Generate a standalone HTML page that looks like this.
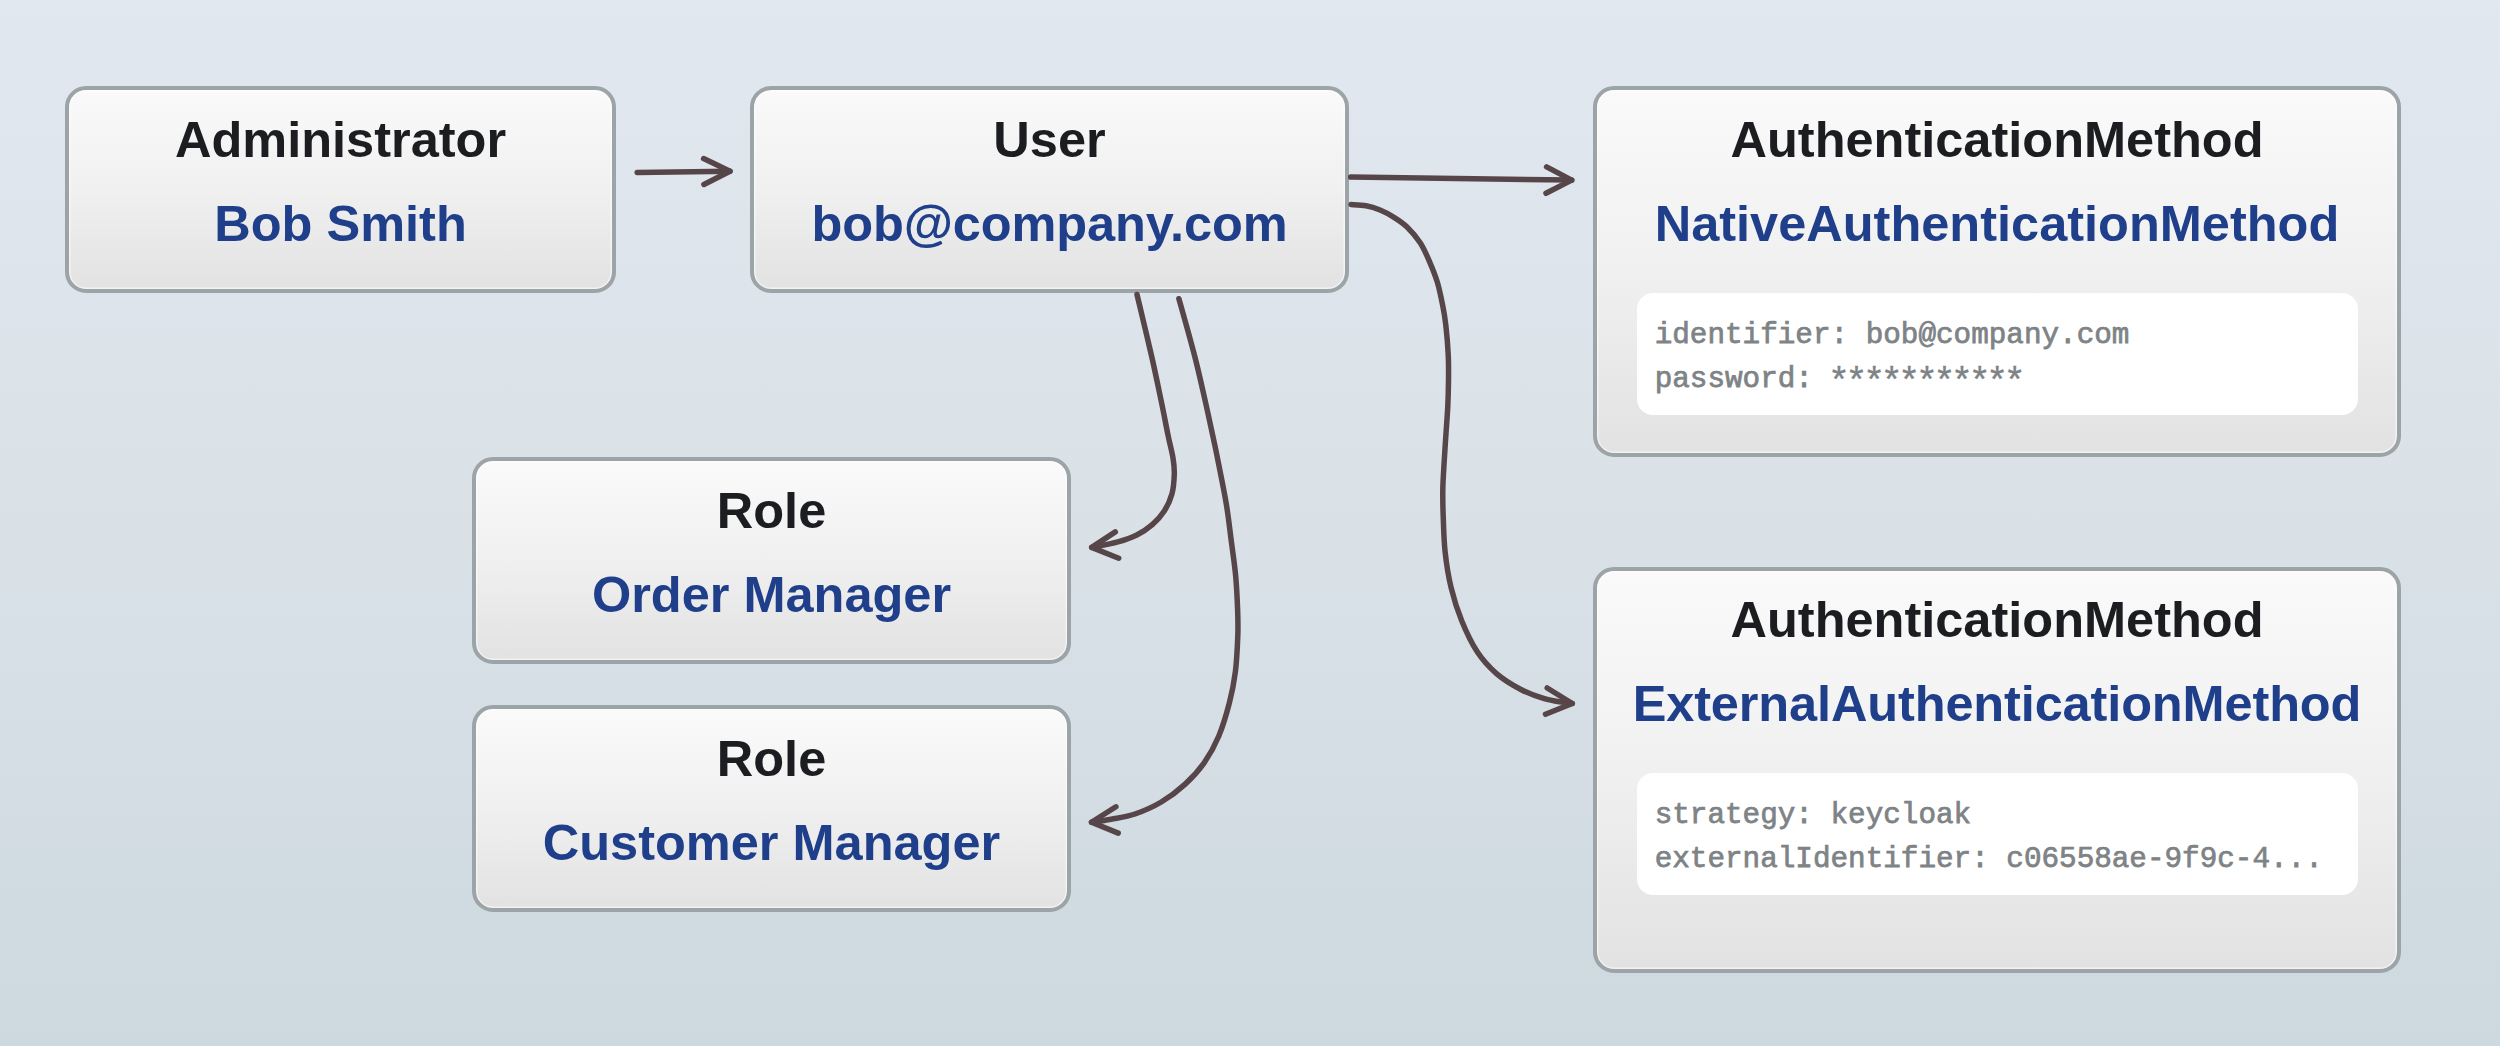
<!DOCTYPE html>
<html>
<head>
<meta charset="utf-8">
<style>
html,body{margin:0;padding:0;}
body{width:2500px;height:1046px;overflow:hidden;position:relative;
  font-family:"Liberation Sans",sans-serif;
  background:linear-gradient(180deg,#e1e8f0 0%,#dae2e8 48%,#cdd9df 100%);}
.box{position:absolute;box-sizing:border-box;border:4px solid #9ca4a8;border-radius:21px;box-shadow:inset 0 0 0 1.5px rgba(255,255,255,.55);
  background:linear-gradient(180deg,#fafafa 0%,#f0f0f1 50%,#e2e2e3 100%);}
.t{position:absolute;left:0;right:0;text-align:center;font-weight:bold;font-size:50.5px;line-height:60px;white-space:nowrap;}
.t1{color:#1b1d21;top:20px;}
.t2{color:#1f3f8b;top:104px;}
.panel{position:absolute;left:39.7px;width:721px;height:122px;background:#fff;border-radius:16px;}
.m{position:absolute;left:18px;font-family:"Liberation Mono",monospace;font-size:29.3px;line-height:44px;color:#7e8386;white-space:pre;font-weight:normal;-webkit-text-stroke:0.75px #7e8386;}
.ast{font-size:36.5px;line-height:0;letter-spacing:-4.32px;position:relative;top:6.5px;margin-left:-2.5px;-webkit-text-stroke:0.4px #7e8386;}
svg{position:absolute;left:0;top:0;}
</style>
</head>
<body>

<div class="box" style="left:65px;top:86px;width:551px;height:207px;">
  <div class="t t1">Administrator</div>
  <div class="t t2">Bob Smith</div>
</div>

<div class="box" style="left:750px;top:86px;width:599px;height:207px;">
  <div class="t t1">User</div>
  <div class="t t2" style="letter-spacing:-0.1px;">bob@company.com</div>
</div>

<div class="box" style="left:472px;top:457px;width:599px;height:207px;">
  <div class="t t1">Role</div>
  <div class="t t2">Order Manager</div>
</div>

<div class="box" style="left:472px;top:705px;width:599px;height:207px;">
  <div class="t t1">Role</div>
  <div class="t t2">Customer Manager</div>
</div>

<div class="box" style="left:1593px;top:86px;width:808px;height:371px;">
  <div class="t t1">AuthenticationMethod</div>
  <div class="t t2">NativeAuthenticationMethod</div>
  <div class="panel" style="top:203px;">
    <div class="m" style="top:20.5px;">identifier: bob@company.com</div>
    <div class="m" style="top:64.5px;">password: <span class="ast">***********</span></div>
  </div>
</div>

<div class="box" style="left:1593px;top:567px;width:808px;height:406px;">
  <div class="t t1" style="top:19px;">AuthenticationMethod</div>
  <div class="t t2" style="top:103px;letter-spacing:-0.13px;">ExternalAuthenticationMethod</div>
  <div class="panel" style="top:201.8px;">
    <div class="m" style="top:21.2px;">strategy: keycloak</div>
    <div class="m" style="top:65.2px;">externalIdentifier: c06558ae-9f9c-4...</div>
  </div>
</div>

<svg width="2500" height="1046" viewBox="0 0 2500 1046" fill="none" stroke="#574649" stroke-width="5.5" stroke-linecap="round" stroke-linejoin="round">
  <!-- admin -> user -->
  <path d="M637.2 172.5 L730 171.2"/>
  <path d="M703.6 158.6 L730 171.2 L703.9 184.5"/>
  <!-- user -> auth1 -->
  <path d="M1350.7 177.1 L1571.7 180.1"/>
  <path d="M1546.6 166.9 L1571.7 180.1 L1546 193.3"/>
  <!-- user -> auth2 -->
  <path d="M1351.0 204.5 C1353.5 204.7 1361.2 204.9 1366.0 205.8 C1370.8 206.7 1375.3 208.1 1380.0 210.0 C1384.7 211.9 1389.5 214.5 1394.0 217.3 C1398.5 220.1 1402.4 222.6 1406.8 226.8 C1411.2 231.1 1416.4 237.0 1420.2 242.8 C1424.0 248.6 1426.6 254.9 1429.5 261.6 C1432.4 268.3 1435.3 275.4 1437.6 283.0 C1439.8 290.6 1441.6 300.0 1443.0 307.0 C1444.4 314.0 1444.9 317.1 1445.8 325.0 C1446.7 332.9 1447.8 345.2 1448.2 354.4 C1448.7 363.6 1448.6 371.6 1448.5 380.2 C1448.4 388.8 1448.2 397.4 1447.8 406.0 C1447.4 414.6 1446.8 421.8 1446.1 431.9 C1445.4 441.9 1444.5 456.6 1443.9 466.3 C1443.4 476.0 1442.9 481.7 1442.8 490.0 C1442.7 498.3 1442.8 505.6 1443.2 515.9 C1443.6 526.2 1443.8 539.8 1445.1 551.7 C1446.4 563.7 1448.3 576.1 1451.1 587.6 C1453.9 599.1 1457.4 610.2 1461.8 621.0 C1466.2 631.8 1471.6 643.3 1477.4 652.1 C1483.2 660.9 1489.3 667.4 1496.5 673.6 C1503.7 679.8 1512.4 685.0 1520.4 689.2 C1528.4 693.4 1537.1 696.5 1544.3 698.7 C1551.5 700.9 1558.7 701.5 1563.4 702.3 C1568.1 703.1 1570.8 703.3 1572.3 703.5"/>
  <path d="M1547.2 688 L1572.3 703.5 L1545.5 714.3"/>
  <!-- user -> role1 -->
  <path d="M1137.0 294.5 C1139.5 304.8 1147.7 338.9 1151.7 356.5 C1155.7 374.1 1158.2 386.8 1161.0 400.0 C1163.8 413.2 1166.2 426.3 1168.2 436.0 C1170.2 445.7 1172.0 451.7 1173.0 458.0 C1174.0 464.3 1174.5 468.1 1174.3 474.0 C1174.1 479.9 1173.7 487.6 1172.0 493.7 C1170.3 499.8 1167.6 505.8 1164.3 510.9 C1161.0 516.0 1156.9 520.6 1152.3 524.6 C1147.7 528.6 1142.5 532.1 1136.8 535.0 C1131.1 537.9 1125.4 539.8 1117.9 541.9 C1110.4 544.0 1096.1 546.5 1091.7 547.4"/>
  <path d="M1115.3 531.9 L1091.7 547.4 L1118.7 558.2"/>
  <!-- user -> role2 -->
  <path d="M1178.9 298.7 C1181.6 308.3 1190.5 339.6 1194.8 356.5 C1199.1 373.4 1201.9 386.2 1205.0 400.0 C1208.1 413.8 1211.4 429.1 1213.5 439.0 C1215.6 448.9 1215.6 448.5 1217.7 459.3 C1219.8 470.1 1224.0 490.2 1226.3 504.0 C1228.6 517.8 1229.8 529.9 1231.4 541.9 C1233.0 553.9 1234.7 565.1 1235.7 576.3 C1236.7 587.5 1237.2 599.1 1237.6 609.0 C1237.9 618.9 1238.2 625.4 1237.8 635.9 C1237.4 646.4 1236.8 660.6 1235.4 671.7 C1234.0 682.9 1232.2 692.0 1229.4 702.8 C1226.6 713.6 1222.9 726.3 1218.7 736.3 C1214.5 746.3 1209.9 754.6 1204.3 762.6 C1198.7 770.6 1192.4 777.5 1185.2 784.1 C1178.0 790.7 1169.7 797.0 1161.3 802.0 C1152.9 807.0 1143.4 811.1 1135.0 814.0 C1126.6 816.9 1118.3 817.8 1111.1 819.2 C1103.8 820.6 1094.8 821.8 1091.5 822.3"/>
  <path d="M1115.9 806.8 L1091.5 822.3 L1118.2 833.1"/>
</svg>

</body>
</html>
